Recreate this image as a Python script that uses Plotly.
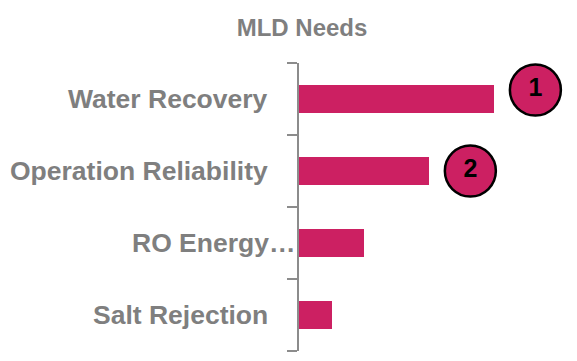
import plotly.graph_objects as go

categories = ["Water Recovery", "Operation Reliability", "RO Energy…", "Salt Rejection"]
values = [6, 4, 2, 1]
ranks = ["1", "2"]
rank_y_offset = [-0.125, 0.0]

BAR = "#CC2062"
GRAY = "#7F7F7F"
FONT = "Liberation Sans, Arial, sans-serif"

pos = list(range(len(categories)))

fig = go.Figure()
fig.add_trace(go.Bar(
    x=values, y=pos, orientation="h", width=0.39,
    marker=dict(color=BAR, line=dict(width=0)), hoverinfo="skip",
))
fig.add_trace(go.Scatter(
    x=[values[i] + 1.27 for i in range(len(ranks))],
    y=[pos[i] + rank_y_offset[i] for i in range(len(ranks))],
    mode="markers+text", text=ranks, textposition="middle center",
    marker=dict(size=51, color=BAR, line=dict(color="black", width=2.5)),
    textfont=dict(family=FONT, size=25, color="black", weight="bold"),
    hoverinfo="skip", cliponaxis=False,
))

label_shift = [-29, -29, -2, -29]
for i, c in enumerate(categories):
    fig.add_annotation(
        x=0, xref="paper", y=pos[i], yref="y", text=c, showarrow=False,
        xanchor="right", yanchor="middle", xshift=label_shift[i],
        font=dict(family=FONT, size=26.5, color=GRAY, weight="bold"),
    )

fig.update_layout(
    width=577, height=361,
    margin=dict(l=299, r=0, t=63, b=10),
    paper_bgcolor="white", plot_bgcolor="white",
    showlegend=False,
    title=dict(text="MLD Needs", xref="container", yref="container",
               x=302 / 577, xanchor="center", y=1 - 27.5 / 361, yanchor="middle",
               font=dict(family=FONT, size=24, color=GRAY, weight="bold")),
    xaxis=dict(range=[0, 8.55], visible=False, fixedrange=True),
    yaxis=dict(range=[3.5, -0.5], showgrid=False, zeroline=False,
               showline=True, linecolor="#8C8C8C", linewidth=2,
               tickvals=[-0.5, 0.5, 1.5, 2.5, 3.5], ticktext=[""] * 5,
               ticks="outside", ticklen=10, tickwidth=2, tickcolor="#8C8C8C"),
    bargap=0,
)

fig.write_html("out.html")
